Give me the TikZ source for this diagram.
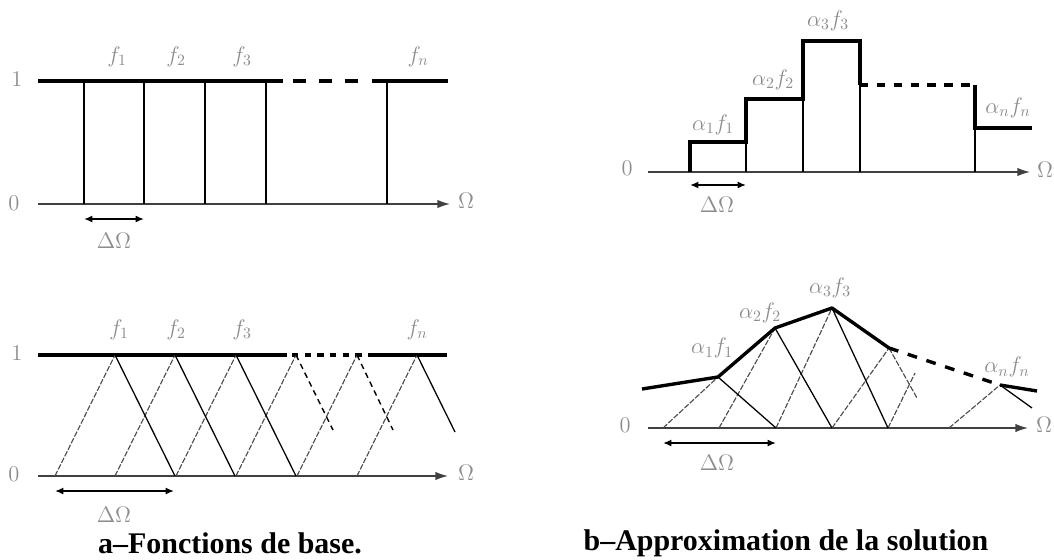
\RequirePackage{fix-cm}
\documentclass[tikz,border=0pt]{standalone}
\usepackage{amsmath}
\usepackage[no-math]{fontspec}
\newfontfamily\capfont[Ligatures=TeX,BoldFont={Liberation Serif Bold}]{Liberation Serif}
\usepackage{tikz}
\usetikzlibrary{arrows.meta}

\begin{document}
\begin{tikzpicture}[x=0.25mm,y=-0.25mm]
		\tikzset{lbl/.style={text=black!45,font=\fontsize{16}{19}\selectfont,inner sep=0pt},
			captiontext/.style={font={\capfont\fontsize{21.3}{25}\selectfont\bfseries},inner sep=0pt},
			axisline/.style={draw=black!75,line width=1pt,-{Latex[length=9pt,width=6pt]}},
			thickline/.style={line width=2.4pt},
			thinline/.style={line width=0.9pt},
			dashline/.style={line width=2.4pt,dash pattern=on #1 off #1},
			risingleg/.style={draw=black!70,line width=0.8pt,dash pattern=on 4pt off 1.2pt},
			fallingdash/.style={line width=1pt,dash pattern=on 4pt off 3pt},
			spanarrow/.style={line width=1.1pt,{Latex[length=6pt,width=5pt]}-{Latex[length=6pt,width=5pt]}}};
		\useasboundingbox (0,0) rectangle (1054,560);
		% a, top
		\draw[axisline] (38,204) -- (450,204);
		\node[lbl] (omA) at (466,201) {$\Omega$};
		\node[lbl] (oneA) at (17,79) {$1$};
		\node[lbl] (zeroA) at (14,203) {$0$};
		\draw[thickline] (38,81) -- (283,81);
		\draw[dashline=9.2pt] (293,81) -- (360,81);
		\draw[thickline] (372,81) -- (448,81);
		\foreach \x in {84,144,205,266,387}
			\draw[thinline] (\x,81) -- (\x,204);
		\node[lbl] (fA1) at (117,57) {$f_1$};
		\node[lbl] (fA2) at (176,57) {$f_2$};
		\node[lbl] (fA3) at (242,57) {$f_3$};
		\node[lbl] (fAn) at (418,57) {$f_n$};
		\draw[spanarrow] (84,219) -- (144,219);
		\node[lbl] (dA) at (114,241) {$\Delta\Omega$};
		% a, bottom
		\draw[axisline] (38,476) -- (448,476);
		\node[lbl] (omB) at (466,473) {$\Omega$};
		\node[lbl] (oneB) at (17,353) {$1$};
		\node[lbl] (zeroB) at (14,474) {$0$};
		\draw[thickline] (38,355) -- (287,355);
		\draw[dashline=4.5pt] (292,355) -- (363,355);
		\draw[thickline] (368,355) -- (447,355);
		\foreach \p in {115,175,236,296,357,417}
			\draw[risingleg] (\p-60,476) -- (\p,355);
		\foreach \p in {115,175,236}
			\draw[thinline] (\p,355) -- (\p+60,476);
		\draw[fallingdash] (296,355) -- (333,430);
		\draw[fallingdash] (357,355) -- (393,430);
		\draw[thinline] (417,355) -- (455,432);
		\node[lbl] (fB1) at (119,330) {$f_1$};
		\node[lbl] (fB2) at (176,330) {$f_2$};
		\node[lbl] (fB3) at (242,330) {$f_3$};
		\node[lbl] (fBn) at (417,330) {$f_n$};
		\draw[spanarrow] (55,491) -- (174,491);
		\node[lbl] (dB) at (114,515) {$\Delta\Omega$};
		\node[captiontext] (capA) at (230,543) {a–Fonctions de base.};
		% b, top
		\draw[axisline] (648,172) -- (1030,172);
		\node[lbl] (omC) at (1045,170) {$\Omega$};
		\node[lbl] (zeroC) at (627,168) {$0$};
		\draw[thinline] (746,142) -- (746,172) (803,99) -- (803,172)
			(860,85) -- (860,172) (975,128) -- (975,172);
		\draw[thickline] (690,172) -- (690,142) -- (746,142) -- (746,99) -- (803,99)
			-- (803,41) -- (860,41) -- (860,85);
		\draw[dashline=6pt] (860,85) -- (975,85);
		\draw[thickline] (975,85) -- (975,128) -- (1032,128);
		\node[lbl] (aC1) at (713,125) {$\alpha_1 f_1$};
		\node[lbl] (aC2) at (773,80) {$\alpha_2 f_2$};
		\node[lbl] (aC3) at (828,21) {$\alpha_3 f_3$};
		\node[lbl] (aCn) at (1008,108) {$\alpha_n f_n$};
		\draw[spanarrow] (690,185) -- (746,185);
		\node[lbl] (dC) at (717,205) {$\Delta\Omega$};
		% b, bottom
		\draw[axisline] (648,428) -- (1028,428);
		\node[lbl] (omD) at (1044,425) {$\Omega$};
		\node[lbl] (zeroD) at (625,425) {$0$};
		\coordinate (p1) at (718,377);
		\coordinate (p2) at (775,328);
		\coordinate (p3) at (832,308);
		\coordinate (p4) at (889,348);
		\coordinate (pn) at (1000,385);
		\draw[risingleg] (663,428) -- (p1) (719,428) -- (p2) (776,428) -- (p3)
			(832,428) -- (p4) (949,428) -- (pn);
		\draw[risingleg] (p4) -- (917,398) (888,428) -- (915,373);
		\draw[thinline] (p1) -- (776,428) (p2) -- (832,428) (p3) -- (888,428)
			(pn) -- (1032,408);
		\draw[thickline,line join=round] (642,389) -- (p1) -- (p2) -- (p3) -- (p4);
		\draw[dashline=7pt] (p4) -- (pn);
		\draw[thickline] (pn) -- (1037,391);
		\node[lbl] (aD1) at (712,348) {$\alpha_1 f_1$};
		\node[lbl] (aD2) at (760,313) {$\alpha_2 f_2$};
		\node[lbl] (aD3) at (830,288) {$\alpha_3 f_3$};
		\node[lbl] (aDn) at (1007,367) {$\alpha_n f_n$};
		\draw[spanarrow] (663,443) -- (776,443);
		\node[lbl] (dD) at (717,463) {$\Delta\Omega$};
		\node[captiontext] (capB) at (786,543) {b–Approximation de la solution};
	\end{tikzpicture}
\end{document}
